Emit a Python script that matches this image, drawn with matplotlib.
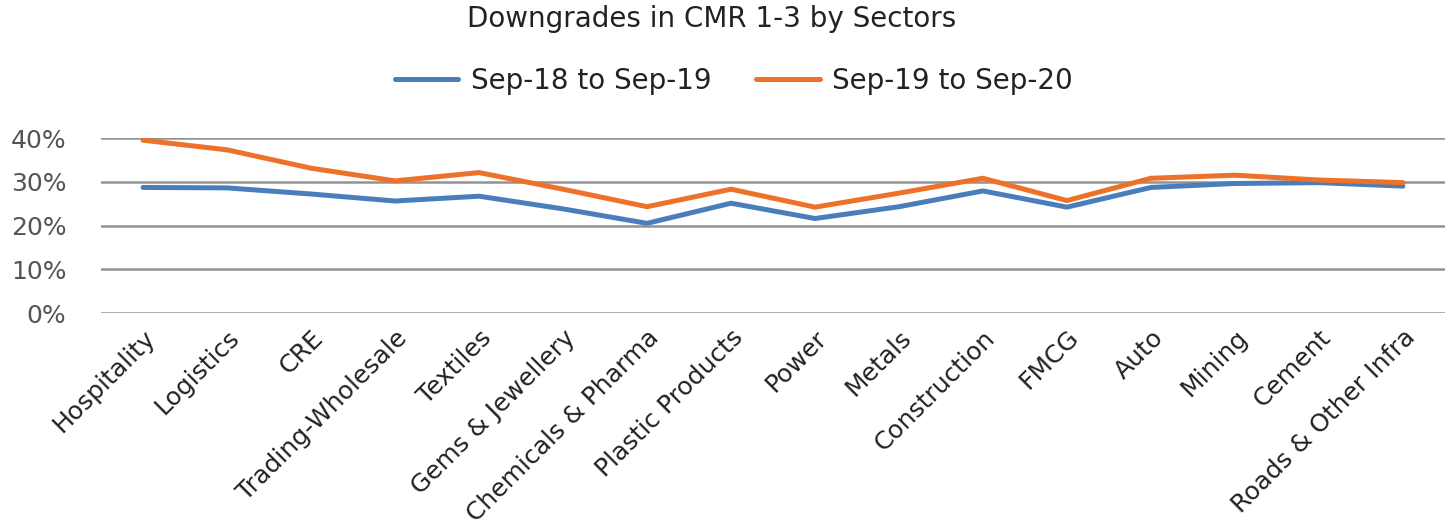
import matplotlib
matplotlib.use("Agg")
import matplotlib.pyplot as plt
from matplotlib.ticker import PercentFormatter

categories = ["Hospitality", "Logistics", "CRE", "Trading-Wholesale", "Textiles",
              "Gems & Jewellery", "Chemicals & Pharma", "Plastic Products", "Power",
              "Metals", "Construction", "FMCG", "Auto", "Mining", "Cement",
              "Roads & Other Infra"]
sep18_sep19 = [28.7, 28.6, 27.2, 25.6, 26.7, 23.8, 20.5, 25.1, 21.6, 24.3, 27.9, 24.2, 28.7, 29.6, 29.8, 29.0]
sep19_sep20 = [39.5, 37.3, 33.1, 30.2, 32.1, 28.3, 24.3, 28.3, 24.2, 27.4, 30.8, 25.7, 30.8, 31.5, 30.4, 29.8]
yticks = [0, 10, 20, 30, 40]

plt.rcParams['font.family'] = ['DejaVu Sans']

fig = plt.figure(figsize=(14.56, 5.30), dpi=100)
ax = fig.add_axes([0.0694, 0.4094, 0.9230, 0.3302])

x = list(range(len(categories)))
ax.plot(x, sep18_sep19, color="#4a7ebb", lw=3.6, label="Sep-18 to Sep-19", solid_capstyle='round')
ax.plot(x, sep19_sep20, color="#ed7128", lw=3.6, label="Sep-19 to Sep-20", solid_capstyle='round')

ax.set_xlim(-0.5, len(categories) - 0.5)
ax.set_ylim(0, 40)
ax.set_yticks(yticks)
ax.yaxis.set_major_formatter(PercentFormatter(decimals=0))
ax.grid(axis='y', color="#939393", lw=1.8)
ax.set_axisbelow(True)
for s in ax.spines.values():
    s.set_visible(False)
ax.tick_params(axis='y', length=0, pad=25, labelsize=18, labelcolor="#555555")
ax.tick_params(axis='x', length=0, pad=9)
ax.set_xticks(x)
ax.set_xticklabels(categories, rotation=45, ha='right', rotation_mode='anchor',
                   fontsize=18, color="#222222")

fig.text(0.489, 0.965, "Downgrades in CMR 1-3 by Sectors", ha='center', va='center',
         fontsize=20, color="#222222")
fig.legend(loc='center', bbox_to_anchor=(0.504, 0.848), ncol=2, frameon=False,
           fontsize=20, handlelength=2.3, columnspacing=1.6, handletextpad=0.45,
           labelcolor="#222222")

fig.savefig("out.png", dpi=100)
